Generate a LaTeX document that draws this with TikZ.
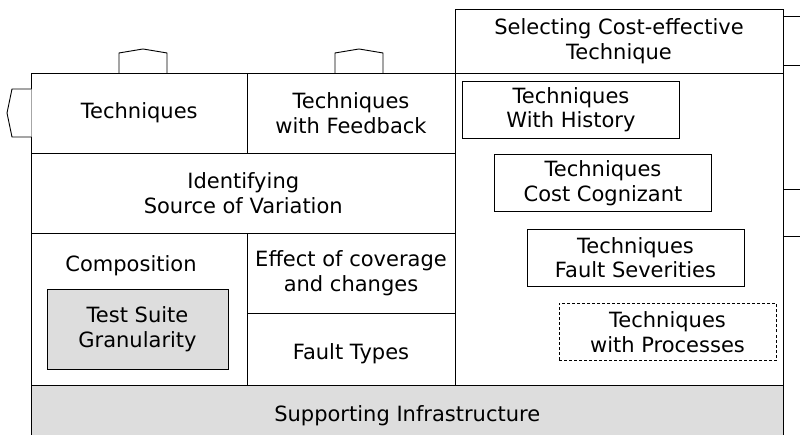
\documentclass[tikz,border=0pt]{standalone}
\usepackage{fontspec}
\setmainfont{DejaVu Sans}
\usetikzlibrary{positioning}

\definecolor{supportgray}{HTML}{DDDDDD}

\begin{document}
\begin{tikzpicture}[x=1pt,y=-1pt,
        font=\fontsize{21}{24.5}\selectfont,
        cell/.style={draw, line width=0.9pt, align=center, inner sep=0pt, outer sep=0pt},
        tech/.style={cell, minimum width=217, minimum height=57},
        bump/.style={draw, line width=0.9pt, fill=white}]
    \useasboundingbox (0,0) rectangle (800,435);

    % left column
    \node[cell, anchor=north west, minimum width=215.5, minimum height=80] (techniques) at (31.5,73) {Techniques};
    \node[cell, right=0pt of techniques, minimum width=208, minimum height=80] (feedback) {Techniques\\with Feedback};
    \node[cell, anchor=north west, minimum width=423.5, minimum height=80] (variation) at (techniques.south west) {Identifying\\Source of Variation};
    \node[cell, anchor=north west, minimum width=215.5, minimum height=152] (composition) at (variation.south west) {};
    \node[cell, anchor=north west, minimum width=208, minimum height=80] (coverage) at (composition.north east) {Effect of coverage\\and changes};
    \node[cell, anchor=north west, minimum width=208, minimum height=72] (faulttypes) at (coverage.south west) {};
    \node (faulttext) at (351,354) {Fault Types};
    \node (complabel) at (131,266) {Composition};
    \node[cell, fill=supportgray, minimum width=181, minimum height=80] (granularity) at (137.5,329) {Test Suite\\Granularity};

    % bumps
    \draw[bump] (119,73) -- (119,53) -- (143,49) -- (167,53) -- (167,73);
    \draw[bump] (335,73) -- (335,53) -- (359,49) -- (383,53) -- (383,73);
    \draw[bump] (31.5,89) -- (12,89) -- (7,113) -- (12,137) -- (31.5,137);

    % right column
    \node[cell, anchor=north west, minimum width=328, minimum height=64] (selecting) at (455,9) {Selecting Cost-effective\\Technique};
    \node[cell, anchor=north west, minimum width=328, minimum height=312] (rightcol) at (selecting.south west) {};
    \node[tech] (history) at (571,109.5) {Techniques\\With History};
    \node[tech] (cognizant) at (603,183) {Techniques\\Cost Cognizant};
    \node[tech] (severities) at (635.5,257.5) {Techniques\\Fault Severities};
    \node[tech, dashed, line width=0.7pt, dash pattern=on 3pt off 2pt] (processes) at (667.5,332) {Techniques\\with Processes};

    % stubs on the right
    \foreach \y in {16,65,189,236}
        \draw[line width=0.9pt] (783,\y) -- (805,\y);

    % bottom
    \node[cell, fill=supportgray, anchor=north west, minimum width=751.5, minimum height=62] (support) at (composition.south west) {Supporting Infrastructure};
\end{tikzpicture}
\end{document}
